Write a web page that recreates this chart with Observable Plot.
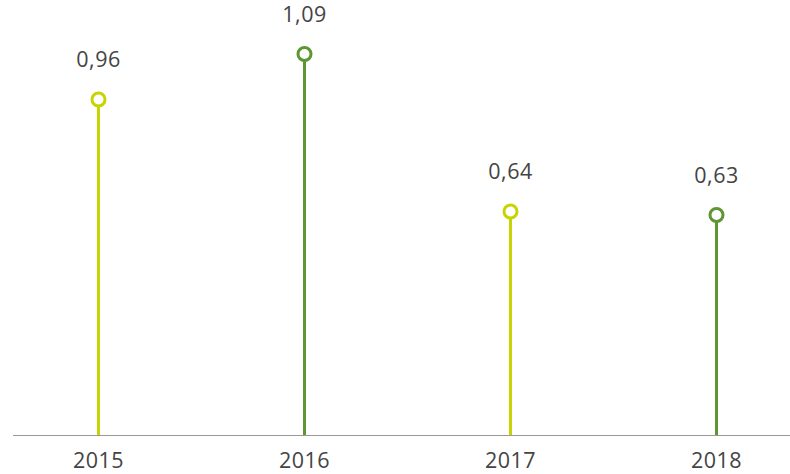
<!DOCTYPE html>
<html>
<head>
<meta charset="utf-8">
<script src="https://cdn.jsdelivr.net/npm/d3@7"></script>
<script src="https://cdn.jsdelivr.net/npm/@observablehq/plot@0.6"></script>
<style>
  html, body { margin: 0; padding: 0; background: #fff; }
  #chart { width: 790px; height: 474px; }
  #chart text { letter-spacing: 0.5px; }
</style>
</head>
<body>
<div id="chart"></div>
<script>
const years = ["2015", "2016", "2017", "2018"];
const values = [0.96, 1.09, 0.64, 0.63];
const labels = ["0,96", "1,09", "0,64", "0,63"];
const colors = ["#c8d400", "#5e9632", "#c8d400", "#5e9632"];

const data = years.map((y, i) => ({year: y, value: values[i], label: labels[i], color: colors[i]}));

const chart = Plot.plot({
  width: 790,
  height: 474,
  marginLeft: 13,
  marginRight: 0,
  marginTop: 15,
  marginBottom: 39,
  style: {fontFamily: "'Open Sans', sans-serif", color: "#444"},
  x: {type: "point", domain: years, padding: 0, insetLeft: 84, insetRight: 74, label: null},
  y: {domain: [0, 1.2], axis: null},
  marks: [
    Plot.ruleY([0], {stroke: "#999", strokeWidth: 1}),
    Plot.ruleX(data, {x: "year", y1: 0, y2: "value", stroke: "color", strokeWidth: 3}),
    Plot.dot(data, {x: "year", y: "value", r: 6.5, fill: "white", stroke: "color", strokeWidth: 3}),
    Plot.text(data, {x: "year", y: "value", text: "label", dy: -39, fontSize: 21.5, fill: "#444"}),
    Plot.axisX({tickSize: 0, tickPadding: 17, fontSize: 21.5, color: "#444"})
  ]
});
document.getElementById("chart").appendChild(chart);
</script>
</body>
</html>
